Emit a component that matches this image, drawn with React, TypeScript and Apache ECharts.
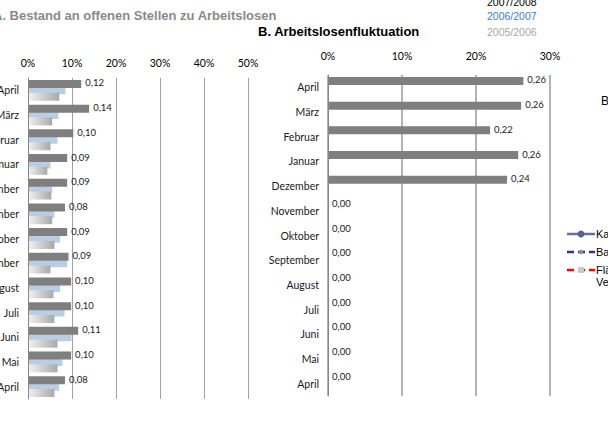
import React, { useEffect, useRef } from 'react';
import * as echarts from 'echarts';

const categories = ['April', 'März', 'Februar', 'Januar', 'Dezember', 'November', 'Oktober', 'September', 'August', 'Juli', 'Juni', 'Mai', 'April'];
const seriesNames = ['2007/2008', '2006/2007', '2005/2006'];
// A. Bestand an offenen Stellen zu Arbeitslosen
const stellen2008 = [0.121, 0.139, 0.103, 0.089, 0.089, 0.084, 0.089, 0.092, 0.098, 0.098, 0.114, 0.098, 0.084];
const stellen2007 = [0.085, 0.069, 0.067, 0.051, 0.055, 0.060, 0.073, 0.089, 0.073, 0.083, 0.099, 0.078, 0.071];
const stellen2006 = [0.071, 0.055, 0.051, 0.044, 0.053, 0.055, 0.060, 0.051, 0.058, 0.060, 0.067, 0.067, 0.060];
// B. Arbeitslosenfluktuation
const fluktuation2008 = [0.264, 0.261, 0.219, 0.257, 0.242, 0, 0, 0, 0, 0, 0, 0, 0];
const fluktuation2007 = [null, null, null, null, null, null, null, null, null, null, null, null, null];
const fluktuation2006 = [null, null, null, null, null, null, null, null, null, null, null, null, null];
const axisMaxA = 0.5;
const axisMaxB = 0.3;
const axisStep = 0.1;
const rightLegendLabels = ['Ka', 'Ba', 'Flä', 'Ve'];

const CAL = 'Lato, "Noto Sans", sans-serif';
const ARIAL = '"Liberation Sans", Arial, sans-serif';

const fmt = (p: any) => (p.value == null ? '' : Number(p.value).toFixed(2).replace('.', ','));

const grayGrad = () =>
  new echarts.graphic.LinearGradient(0, 0, 1, 0, [
    { offset: 0, color: '#f2f2f2' },
    { offset: 1, color: '#a9a9a9' },
  ]);

export default function App() {
  const ref = useRef<HTMLDivElement>(null);
  useEffect(() => {
    if (!ref.current) return;
    const chart = echarts.init(ref.current, null, { renderer: 'svg' });
    const valueAxis = (gridIndex: number, max: number, margin: number, gridColor: string, gridWidth: number) => ({
      type: 'value',
      gridIndex,
      position: 'top',
      min: 0,
      max,
      interval: axisStep,
      axisLine: { show: false },
      axisTick: { show: false },
      splitLine: { show: true, lineStyle: { color: gridColor, width: gridWidth } },
      axisLabel: {
        formatter: (v: number) => Math.round(v * 100) + '%',
        fontFamily: CAL,
        fontSize: 10.5,
        color: '#000',
        margin,
      },
    });
    const catAxis = (gridIndex: number) => ({
      type: 'category',
      gridIndex,
      data: categories,
      inverse: true,
      z: 5,
      axisLine: { show: true, lineStyle: { color: '#878787', width: 1 } },
      axisTick: { show: false },
      axisLabel: { fontFamily: CAL, fontSize: 10.5, color: '#1a1a1a', margin: 9 },
    });
    const barCommon = {
      type: 'bar',
      barWidth: 8,
      barGap: '-20%',
    };
    const darkLabel = {
      show: true,
      position: 'right',
      distance: 4,
      offset: [0, -1],
      formatter: fmt,
      fontFamily: CAL,
      fontSize: 9.5,
      color: '#1a1a1a',
    };
    const option: any = {
      animation: false,
      backgroundColor: '#ffffff',
      grid: [
        { left: 28, top: 78, width: 220, bottom: 22, containLabel: false, outerBoundsMode: 'none' },
        { left: 328, top: 75, width: 222, bottom: 25, containLabel: false, outerBoundsMode: 'none' },
      ],
      xAxis: [valueAxis(0, axisMaxA, 10, '#a0a0a0', 1), valueAxis(1, axisMaxB, 14, '#9a9a9a', 1.5)],
      yAxis: [catAxis(0), catAxis(1)],
      series: [
        { ...barCommon, name: seriesNames[0], xAxisIndex: 0, yAxisIndex: 0, data: stellen2008, itemStyle: { color: '#7f7f7f' }, label: darkLabel, z: 3 },
        { ...barCommon, name: seriesNames[1], xAxisIndex: 0, yAxisIndex: 0, data: stellen2007, itemStyle: { color: '#b9cde5' }, z: 2 },
        { ...barCommon, name: seriesNames[2], xAxisIndex: 0, yAxisIndex: 0, data: stellen2006, itemStyle: { color: grayGrad() }, z: 2 },
        { ...barCommon, name: seriesNames[0], xAxisIndex: 1, yAxisIndex: 1, data: fluktuation2008, itemStyle: { color: '#7f7f7f' }, label: darkLabel, z: 3 },
        { ...barCommon, name: seriesNames[1], xAxisIndex: 1, yAxisIndex: 1, data: fluktuation2007, itemStyle: { color: '#b9cde5' }, z: 2 },
        { ...barCommon, name: seriesNames[2], xAxisIndex: 1, yAxisIndex: 1, data: fluktuation2006, itemStyle: { color: grayGrad() }, z: 2 },
      ],
      graphic: [
        { type: 'text', x: -7, y: 15, style: { text: 'A. Bestand an offenen Stellen zu Arbeitslosen', font: 'bold 13px ' + ARIAL, fill: '#8a8a8a', verticalAlign: 'middle' } },
        { type: 'text', x: 258, y: 31, style: { text: 'B. Arbeitslosenfluktuation', font: 'bold 13px ' + ARIAL, fill: '#000', verticalAlign: 'middle' } },
        { type: 'text', x: 487, y: 2, style: { text: seriesNames[0], font: '10.5px ' + ARIAL, fill: '#000', verticalAlign: 'middle' } },
        { type: 'text', x: 487, y: 16, style: { text: seriesNames[1], font: '10.5px ' + ARIAL, fill: '#3a7dd6', verticalAlign: 'middle' } },
        { type: 'text', x: 487, y: 32, style: { text: seriesNames[2], font: '10.5px ' + ARIAL, fill: '#a6a6a6', verticalAlign: 'middle' } },
        { type: 'text', x: 601, y: 101, style: { text: 'B', font: '12px ' + ARIAL, fill: '#000', verticalAlign: 'middle' } },
        // right legend (cut off at the page edge, as in the reference)
        { type: 'line', shape: { x1: 567, y1: 234, x2: 595, y2: 234 }, style: { stroke: '#6b6ba6', lineWidth: 2.5 } },
        { type: 'circle', shape: { cx: 581, cy: 234, r: 3.5 }, style: { fill: '#5f5f9c' } },
        { type: 'text', x: 596, y: 234, style: { text: rightLegendLabels[0], font: '11px ' + ARIAL, fill: '#000', verticalAlign: 'middle' } },
        { type: 'line', shape: { x1: 567, y1: 252, x2: 595, y2: 252 }, style: { stroke: '#30309a', lineWidth: 2.5, lineDash: [7, 4] } },
        { type: 'circle', shape: { cx: 581, cy: 252, r: 2.2 }, style: { fill: '#8c8c8c' } },
        { type: 'text', x: 596, y: 252, style: { text: rightLegendLabels[1], font: '11px ' + ARIAL, fill: '#000', verticalAlign: 'middle' } },
        { type: 'line', shape: { x1: 567, y1: 270, x2: 595, y2: 270 }, style: { stroke: '#ff0000', lineWidth: 2.5, lineDash: [7, 4] } },
        { type: 'rect', shape: { x: 578, y: 267, width: 6, height: 6 }, style: { fill: '#c8c8c8' } },
        { type: 'text', x: 596, y: 270, style: { text: rightLegendLabels[2], font: '11px ' + ARIAL, fill: '#000', verticalAlign: 'middle' } },
        { type: 'text', x: 596, y: 282, style: { text: rightLegendLabels[3], font: '11px ' + ARIAL, fill: '#000', verticalAlign: 'middle' } },
      ],
    };
    chart.setOption(option);
    return () => chart.dispose();
  }, []);
  return (
    <div
      ref={ref}
      style={{ position: 'fixed', left: 0, top: 0, width: 608, height: 421, background: '#fff' }}
    />
  );
}
